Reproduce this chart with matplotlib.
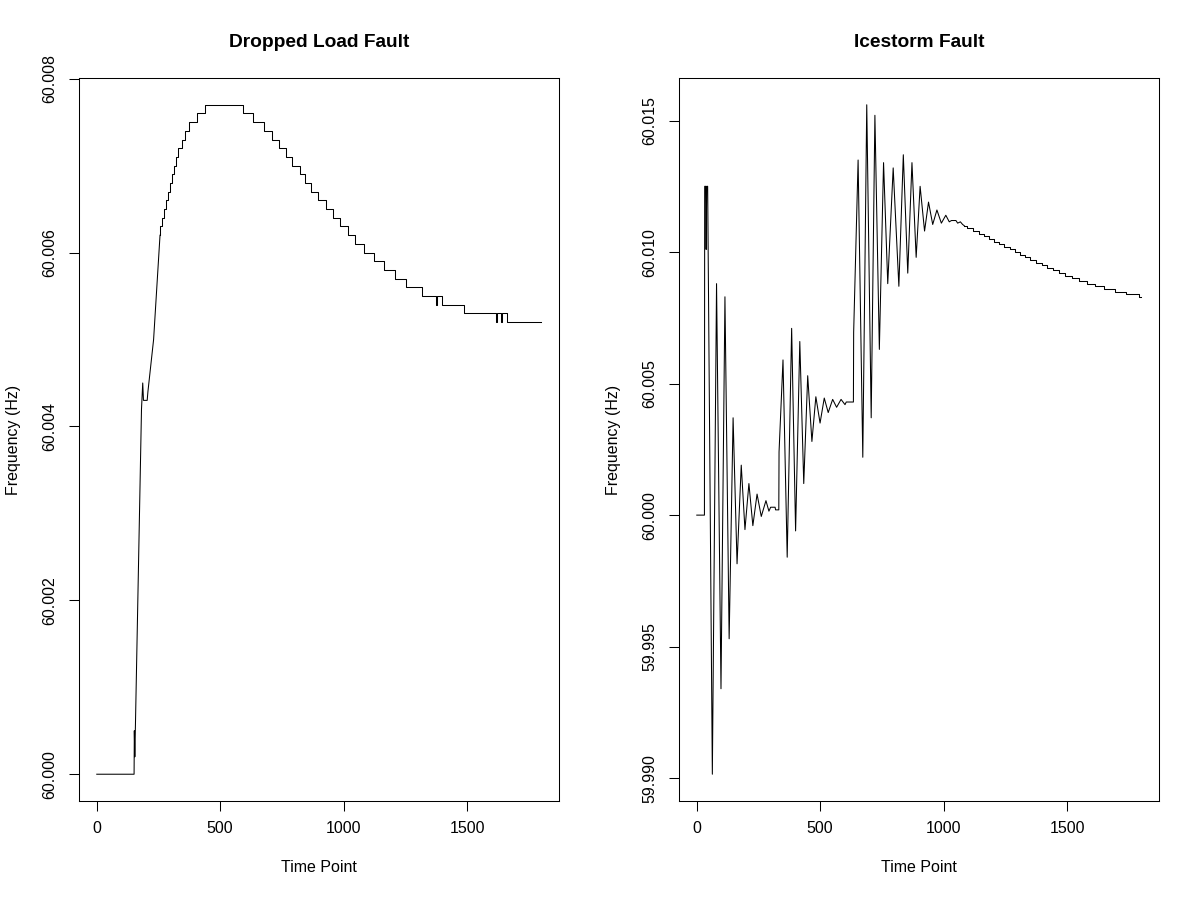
import matplotlib
matplotlib.use("Agg")
import numpy as np
import matplotlib.pyplot as plt
from matplotlib.ticker import FormatStrFormatter

plt.rcParams['font.family'] = ['Liberation Sans', 'DejaVu Sans']

# values are deviations from 60 Hz, in mHz
# dropped load fault: fast rise drawn as a line, then a quantised staircase
load_rise_t = [1, 152, 153, 155, 182, 187, 190, 205, 208, 231, 257]
load_rise_f = [0, 0, 0.5, 0.2, 4.2, 4.5, 4.3, 4.3, 4.4, 5.0, 6.2]
load_step_t = [257, 258, 266, 275, 282, 289, 297, 306, 314, 322, 331, 345, 358, 376, 406, 439,
               593, 634, 677, 709, 739, 766, 793, 823, 843, 870, 897, 928, 958, 986, 1016,
               1046, 1084, 1124, 1162, 1208, 1253, 1316, 1376, 1380, 1397, 1489, 1617, 1621,
               1638, 1642, 1660, 1800]
load_step_f = [6.2, 6.3, 6.4, 6.5, 6.6, 6.7, 6.8, 6.9, 7.0, 7.1, 7.2, 7.3, 7.4, 7.5, 7.6, 7.7,
               7.6, 7.5, 7.4, 7.3, 7.2, 7.1, 7.0, 6.9, 6.8, 6.7, 6.6, 6.5, 6.4, 6.3, 6.2,
               6.1, 6.0, 5.9, 5.8, 5.7, 5.6, 5.5, 5.4, 5.5, 5.4, 5.3, 5.2, 5.3,
               5.2, 5.3, 5.2, 5.2]

# icestorm fault: oscillation peaks/troughs, then slow staircase decay
storm_t = [1, 32, 33, 37, 39, 41, 45, 64, 81, 99, 115, 132, 148, 164, 181, 196, 212,
           228, 245, 262, 281, 293, 300, 318, 320, 333, 334, 350, 367, 385, 401, 418,
           434, 450, 467, 483, 500, 517, 533, 551, 567, 585, 601, 606, 635, 636, 654,
           673, 689, 707, 722, 740, 757, 774, 796, 819, 837, 855, 872, 889, 905, 923,
           939, 956, 973, 991, 1009, 1023, 1032, 1050, 1057, 1068, 1077, 1084]
storm_f = [0, 0, 12.5, 12.5, 10.1, 12.5, 12.5, -9.85, 8.8, -6.6, 8.3, -4.7, 3.7, -1.85, 1.9, -0.55, 1.2,
           -0.4, 0.8, -0.05, 0.55, 0.15, 0.3, 0.3, 0.2, 0.2, 2.4, 5.9, -1.6, 7.1, -0.6, 6.6,
           1.2, 5.3, 2.8, 4.5, 3.5, 4.45, 3.9, 4.4, 4.1, 4.4, 4.2, 4.3, 4.3, 6.95, 13.5,
           2.2, 15.6, 3.7, 15.2, 6.3, 13.4, 8.8, 13.2, 8.7, 13.7, 9.2, 13.4, 9.8, 12.5, 10.8,
           11.9, 11.05, 11.6, 11.1, 11.4, 11.15, 11.2, 11.2, 11.1, 11.15, 11.05, 11.0]
storm_step_t = [1084, 1095, 1121, 1142, 1165, 1185, 1205, 1226, 1246, 1269, 1289, 1311, 1331,
                1351, 1374, 1397, 1419, 1442, 1466, 1492, 1519, 1547, 1580, 1613, 1651, 1694,
                1739, 1789, 1800]
storm_step_f = [11.0, 10.9, 10.8, 10.7, 10.6, 10.5, 10.4, 10.3, 10.2, 10.1, 10.0, 9.9, 9.8,
                9.7, 9.6, 9.5, 9.4, 9.3, 9.2, 9.1, 9.0, 8.9, 8.8, 8.7, 8.6, 8.5,
                8.4, 8.3, 8.3]

x_ticks = [0, 500, 1000, 1500]
load_yticks = [60.000, 60.002, 60.004, 60.006, 60.008]
storm_yticks = [59.990, 59.995, 60.000, 60.005, 60.010, 60.015]


def hz(v):
    return 60 + np.array(v) / 1000.0


fig = plt.figure(figsize=(12, 8.99), dpi=100)
ax1 = fig.add_axes([79 / 1200, 98 / 899, 480 / 1200, 723 / 899])
ax2 = fig.add_axes([679 / 1200, 98 / 899, 480 / 1200, 723 / 899])

lw = 0.75
ax1.plot(load_rise_t, hz(load_rise_f), color='black', lw=lw)
ax1.plot(load_step_t, hz(load_step_f), color='black', lw=lw, drawstyle='steps-post')
ax2.plot(storm_t, hz(storm_f), color='black', lw=lw)
ax2.plot(storm_step_t, hz(storm_step_f), color='black', lw=lw, drawstyle='steps-post')

panels = [(ax1, "Dropped Load Fault", load_yticks), (ax2, "Icestorm Fault", storm_yticks)]
for ax, title, yt in panels:
    ax.margins(x=0.04, y=0.04)
    ax.set_xticks(x_ticks)
    ax.set_yticks(yt)
    ax.yaxis.set_major_formatter(FormatStrFormatter('%.3f'))
    ax.tick_params(direction='out', length=6.9, width=lw, labelsize=11.5,
                   color='black', labelcolor='black')
    ax.tick_params(axis='x', pad=7.5)
    ax.tick_params(axis='y', pad=9)
    for lab in ax.get_yticklabels():
        lab.set_rotation(90)
        lab.set_va('center')
    for sp in ax.spines.values():
        sp.set_linewidth(lw)
    ax.set_title(title, fontsize=13.8, fontweight='bold', pad=22)
    ax.set_xlabel('Time Point', fontsize=11.5)
    ax.set_ylabel('Frequency (Hz)', fontsize=11.5)
    ax.xaxis.set_label_coords(0.5, -0.081)
    ax.yaxis.set_label_coords(-0.121, 0.5)

fig.savefig('out.png', dpi=100)
